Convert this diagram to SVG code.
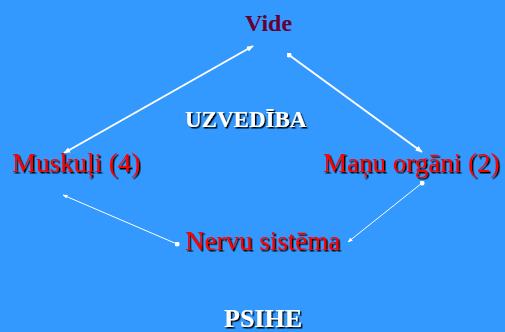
<svg xmlns="http://www.w3.org/2000/svg" width="505" height="332" viewBox="0 0 505 332">
<style>
.t{font-family:"Liberation Serif","Times New Roman",serif;filter:url(#shadow);}
.red{font-size:27px;fill:#ff0000;}
.wh{font-size:23px;font-weight:bold;fill:#ffffff;}
.big{font-size:26px;}
.thick{stroke:#ffffff;stroke-width:2;fill:none;}
.thin{stroke:#ffffff;stroke-width:1;fill:none;}
</style>
<defs>
<filter id="shadow" x="-5%" y="-20%" width="115%" height="150%">
<feDropShadow dx="1.5" dy="1.5" stdDeviation="0" flood-color="#000000" flood-opacity="1"/>
</filter>
<marker id="ah" viewBox="0 0 10 10" refX="9" refY="5" markerWidth="5" markerHeight="5" orient="auto-start-reverse" markerUnits="userSpaceOnUse">
<path d="M0,1 L10,5 L0,9 z" fill="#ffffff"/>
</marker>
<marker id="ah2" viewBox="0 0 10 10" refX="9" refY="5" markerWidth="7" markerHeight="7" orient="auto-start-reverse" markerUnits="userSpaceOnUse">
<path d="M0,1 L10,5 L0,9 z" fill="#ffffff"/>
</marker>
<marker id="dot" viewBox="0 0 10 10" refX="5" refY="5" markerWidth="5" markerHeight="5" markerUnits="userSpaceOnUse">
<circle cx="5" cy="5" r="5" fill="#ffffff"/>
</marker>
</defs>
<rect width="505" height="332" fill="#3399ff"/>
<g id="connectors">
<line class="thick" x1="64" y1="153" x2="253" y2="46" marker-start="url(#ah2)" marker-end="url(#ah2)"/>
<line class="thick" x1="289" y1="55" x2="422" y2="152" marker-start="url(#dot)" marker-end="url(#ah2)"/>
<line class="thin" x1="177" y1="244" x2="63" y2="195" marker-start="url(#dot)" marker-end="url(#ah)"/>
<line class="thin" x1="422" y1="183" x2="348" y2="242" marker-start="url(#dot)" marker-end="url(#ah)"/>
</g>
<g id="vide">
<text x="245" y="31" font-family="Liberation Serif, Times New Roman, serif" font-size="24" font-weight="bold" fill="#660033">Vide</text>
</g>
<g id="uzvediba">
<text class="t wh" x="185" y="127">UZVEDĪBA</text>
</g>
<g id="muskuli">
<text class="t red" x="12" y="172">Muskuļi (4)</text>
</g>
<g id="manu-organi">
<text class="t red" x="323" y="172">Maņu orgāni (2)</text>
</g>
<g id="nervu-sistema">
<text class="t red" x="185" y="250">Nervu sistēma</text>
</g>
<g id="psihe">
<text class="t wh big" x="224" y="327">PSIHE</text>
</g>
</svg>
